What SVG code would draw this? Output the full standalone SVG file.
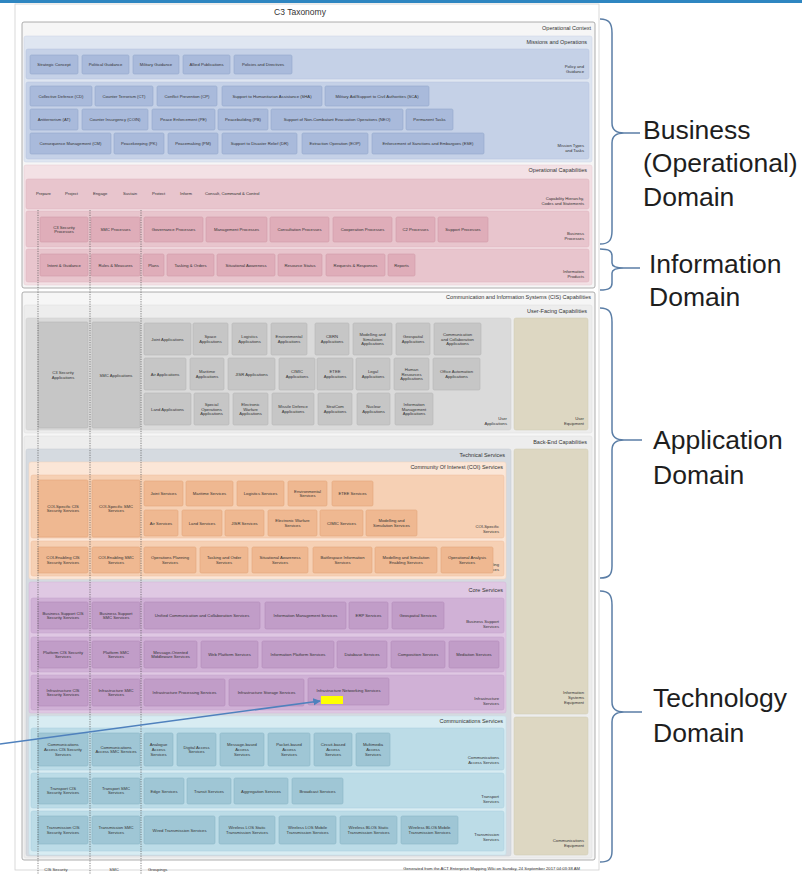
<svg xmlns="http://www.w3.org/2000/svg" width="802" height="874" viewBox="0 0 802 874">
<defs>
<style>
text{font-family:"Liberation Sans",Arial,sans-serif;fill:#333}
.t{font-size:4.2px;text-anchor:middle}
.tl{font-size:4.2px;text-anchor:start}
.l{font-size:4.2px;text-anchor:end}
.h{font-size:5.5px;text-anchor:end}
.dom{font-size:26.5px;fill:#1e1e1e}
.frame{fill:#f6f6f6;stroke:#9a9a9a;stroke-width:0.8}
.mbox{fill:#dfe6f1;stroke:#c9d3e6;stroke-width:0.5}
.mrow{fill:#c5d1e7;stroke:#b4c3de;stroke-width:0.5}
.mi{fill:#a9badb;stroke:#94a8cc;stroke-width:0.6}
.obox{fill:#f3e1e5;stroke:#e6c9d0;stroke-width:0.5}
.orow{fill:#e8c5cd;stroke:#dcb2bc;stroke-width:0.5}
.oi{fill:#dfadb9;stroke:#d29aa8;stroke-width:0.6}
.gbox{fill:#ededed;stroke:#dcdcdc;stroke-width:0.5}
.grow{fill:#dadada;stroke:#cfcfcf;stroke-width:0.5}
.gi{fill:#c6c6c6;stroke:#b5b5b5;stroke-width:0.6}
.tan{fill:#ddd7c2;stroke:#cfc8b0;stroke-width:0.5}
.tech{fill:#d5dae0;stroke:#c5cbd3;stroke-width:0.5}
.cbox{fill:#fbe6d7;stroke:#f1d2bb;stroke-width:0.5}
.crow{fill:#f6d0b4;stroke:#ecbf9f;stroke-width:0.5}
.ci{fill:#efb891;stroke:#e3a67c;stroke-width:0.6}
.pbox{fill:#dfc8e3;stroke:#d0b5d6;stroke-width:0.5}
.prow{fill:#d0b1d6;stroke:#c3a1ca;stroke-width:0.5}
.pi{fill:#c19dc8;stroke:#b38bba;stroke-width:0.6}
.bbox{fill:#d8ecf2;stroke:#c2dfe8;stroke-width:0.5}
.brow{fill:#bcdce7;stroke:#a9cfdc;stroke-width:0.5}
.bi{fill:#9fc6d5;stroke:#8bb7c8;stroke-width:0.6}
.dash{stroke:#555;stroke-width:0.7;stroke-dasharray:1.2 1.2;fill:none}
.brace{fill:none;stroke:#5b7ea6;stroke-width:1.5}
</style>
<marker id="ah" viewBox="0 0 10 10" refX="9" refY="5" markerWidth="5" markerHeight="5" orient="auto">
<path d="M0,0 L10,5 L0,10 z" fill="#4f81bd"/>
</marker>
</defs>
<rect x="0" y="0" width="802" height="874" fill="#ffffff"/>
<rect x="0" y="0" width="802" height="3" fill="#2e86c1"/>
<rect x="15" y="4" width="584" height="866" fill="#ffffff" stroke="#d0d0d0" stroke-width="0.8"/>
<text x="300" y="15" style="font-size:8.5px;text-anchor:middle">C3 Taxonomy</text>

<!-- Operational Context -->
<g id="operational-context">
<rect class="frame" x="22" y="22" width="573" height="266" rx="2"/>
<text class="h" x="591" y="30">Operational Context</text>
</g>
<g id="missions-and-operations">
<rect class="mbox" x="24" y="36" width="568" height="126" rx="2"/>
<text class="h" x="587" y="44">Missions and Operations</text>
</g>
<g id="policy-and-guidance">
<rect class="mrow" x="26" y="49" width="563" height="30" rx="2"/>
<text class="l" x="584" y="67.5">Policy and</text><text class="l" x="584" y="72.5">Guidance</text>
</g>
<g id="mo-strategic-concept"><rect class="mi" x="30" y="55" width="48" height="19" rx="1.5"/><text class="t" x="54" y="66">Strategic Concept</text></g>
<g id="mo-political-guidance"><rect class="mi" x="82" y="55" width="47" height="19" rx="1.5"/><text class="t" x="105.5" y="66">Political Guidance</text></g>
<g id="mo-military-guidance"><rect class="mi" x="133" y="55" width="46" height="19" rx="1.5"/><text class="t" x="156" y="66">Military Guidance</text></g>
<g id="mo-allied-publications"><rect class="mi" x="183" y="55" width="47" height="19" rx="1.5"/><text class="t" x="206.5" y="66">Allied Publications</text></g>
<g id="mo-policies-directives"><rect class="mi" x="234" y="55" width="58" height="19" rx="1.5"/><text class="t" x="263" y="66">Policies and Directives</text></g>

<g id="mission-types-and-tasks">
<rect class="mrow" x="26" y="82" width="563" height="77" rx="2"/>
<text class="l" x="584" y="147">Mission Types</text><text class="l" x="584" y="152">and Tasks</text>
</g>
<g id="mt-cd"><rect class="mi" x="30" y="86" width="62" height="20" rx="1.5"/><text class="t" x="61" y="97.5">Collective Defence (CD)</text></g>
<g id="mt-ct"><rect class="mi" x="95" y="86" width="58" height="20" rx="1.5"/><text class="t" x="124" y="97.5">Counter Terrorism (CT)</text></g>
<g id="mt-cp"><rect class="mi" x="157" y="86" width="60" height="20" rx="1.5"/><text class="t" x="187" y="97.5">Conflict Prevention (CP)</text></g>
<g id="mt-sha"><rect class="mi" x="222" y="86" width="100" height="20" rx="1.5"/><text class="t" x="272" y="97.5">Support to Humanitarian Assistance (SHA)</text></g>
<g id="mt-sca"><rect class="mi" x="325" y="86" width="104" height="20" rx="1.5"/><text class="t" x="377" y="97.5">Military Aid/Support to Civil Authorities (SCA)</text></g>
<g id="mt-at"><rect class="mi" x="30" y="109" width="48" height="21" rx="1.5"/><text class="t" x="54" y="121">Antiterrorism (AT)</text></g>
<g id="mt-coin"><rect class="mi" x="82" y="109" width="66" height="21" rx="1.5"/><text class="t" x="115" y="121">Counter Insurgency (COIN)</text></g>
<g id="mt-pe"><rect class="mi" x="152" y="109" width="63" height="21" rx="1.5"/><text class="t" x="183.5" y="121">Peace Enforcement (PE)</text></g>
<g id="mt-pb"><rect class="mi" x="218" y="109" width="50" height="21" rx="1.5"/><text class="t" x="243" y="121">Peacebuilding (PB)</text></g>
<g id="mt-neo"><rect class="mi" x="271" y="109" width="132" height="21" rx="1.5"/><text class="t" x="337" y="121">Support of Non-Combatant Evacuation Operations (NEO)</text></g>
<g id="mt-permanent"><rect class="mi" x="406" y="109" width="47" height="21" rx="1.5"/><text class="t" x="429.5" y="121">Permanent Tasks</text></g>
<g id="mt-cm"><rect class="mi" x="30" y="133" width="81" height="21" rx="1.5"/><text class="t" x="70.5" y="145">Consequence Management (CM)</text></g>
<g id="mt-pk"><rect class="mi" x="114" y="133" width="50" height="21" rx="1.5"/><text class="t" x="139" y="145">Peacekeeping (PK)</text></g>
<g id="mt-pm"><rect class="mi" x="168" y="133" width="50" height="21" rx="1.5"/><text class="t" x="193" y="145">Peacemaking (PM)</text></g>
<g id="mt-dr"><rect class="mi" x="222" y="133" width="75" height="21" rx="1.5"/><text class="t" x="259.5" y="145">Support to Disaster Relief (DR)</text></g>
<g id="mt-eop"><rect class="mi" x="302" y="133" width="66" height="21" rx="1.5"/><text class="t" x="335" y="145">Extraction Operation (EOP)</text></g>
<g id="mt-ese"><rect class="mi" x="372" y="133" width="112" height="21" rx="1.5"/><text class="t" x="428" y="145">Enforcement of Sanctions and Embargoes (ESE)</text></g>

<g id="operational-capabilities">
<rect class="obox" x="24" y="165" width="568" height="120" rx="2"/>
<text class="h" x="587" y="172">Operational Capabilities</text>
</g>
<g id="capability-hierarchy">
<rect class="orow" x="26" y="179" width="563" height="30" rx="2"/>
<text class="l" x="584" y="199.5">Capability Hierarchy,</text><text class="l" x="584" y="204.5">Codes and Statements</text>
</g>
<g id="cap-prepare"><text class="tl" x="36" y="195">Prepare</text></g>
<g id="cap-project"><text class="tl" x="65" y="195">Project</text></g>
<g id="cap-engage"><text class="tl" x="93" y="195">Engage</text></g>
<g id="cap-sustain"><text class="tl" x="123" y="195">Sustain</text></g>
<g id="cap-protect"><text class="tl" x="152" y="195">Protect</text></g>
<g id="cap-inform"><text class="tl" x="180" y="195">Inform</text></g>
<g id="cap-c3"><text class="tl" x="205" y="195">Consult, Command &amp; Control</text></g>

<g id="business-processes">
<rect class="orow" x="26" y="211" width="563" height="36" rx="2"/>
<text class="l" x="584" y="235">Business</text><text class="l" x="584" y="240">Processes</text>
</g>
<g id="bp-c3sec"><rect class="oi" x="40" y="217" width="48" height="25" rx="1.5"/><text class="t" x="64" y="228.7">C3 Security</text><text class="t" x="64" y="233.3">Processes</text></g>
<g id="bp-smc"><rect class="oi" x="91" y="217" width="49" height="25" rx="1.5"/><text class="t" x="115.5" y="231">SMC Processes</text></g>
<g id="bp-gov"><rect class="oi" x="144" y="217" width="59" height="25" rx="1.5"/><text class="t" x="173.5" y="231">Governance Processes</text></g>
<g id="bp-mgmt"><rect class="oi" x="206" y="217" width="61" height="25" rx="1.5"/><text class="t" x="236.5" y="231">Management Processes</text></g>
<g id="bp-consult"><rect class="oi" x="270" y="217" width="59" height="25" rx="1.5"/><text class="t" x="299.5" y="231">Consultation Processes</text></g>
<g id="bp-coop"><rect class="oi" x="333" y="217" width="59" height="25" rx="1.5"/><text class="t" x="362.5" y="231">Cooperation Processes</text></g>
<g id="bp-c2"><rect class="oi" x="396" y="217" width="39" height="25" rx="1.5"/><text class="t" x="415.5" y="231">C2 Processes</text></g>
<g id="bp-support"><rect class="oi" x="438" y="217" width="50" height="25" rx="1.5"/><text class="t" x="463" y="231">Support Processes</text></g>

<g id="information-products">
<rect class="orow" x="26" y="249" width="563" height="33" rx="2"/>
<text class="l" x="584" y="273">Information</text><text class="l" x="584" y="278">Products</text>
</g>
<g id="ip-intent"><rect class="oi" x="40" y="254" width="48" height="22" rx="1.5"/><text class="t" x="64" y="266.5">Intent &amp; Guidance</text></g>
<g id="ip-rules"><rect class="oi" x="91" y="254" width="49" height="22" rx="1.5"/><text class="t" x="115.5" y="266.5">Rules &amp; Measures</text></g>
<g id="ip-plans"><rect class="oi" x="143" y="254" width="21" height="22" rx="1.5"/><text class="t" x="153.5" y="266.5">Plans</text></g>
<g id="ip-tasking"><rect class="oi" x="167" y="254" width="47" height="22" rx="1.5"/><text class="t" x="190.5" y="266.5">Tasking &amp; Orders</text></g>
<g id="ip-sa"><rect class="oi" x="217" y="254" width="58" height="22" rx="1.5"/><text class="t" x="246" y="266.5">Situational Awareness</text></g>
<g id="ip-resource"><rect class="oi" x="278" y="254" width="44" height="22" rx="1.5"/><text class="t" x="300" y="266.5">Resource Status</text></g>
<g id="ip-requests"><rect class="oi" x="326" y="254" width="59" height="22" rx="1.5"/><text class="t" x="355.5" y="266.5">Requests &amp; Responses</text></g>
<g id="ip-reports"><rect class="oi" x="388" y="254" width="27" height="22" rx="1.5"/><text class="t" x="401.5" y="266.5">Reports</text></g>

<!-- CIS Capabilities -->
<g id="cis-capabilities">
<rect class="frame" x="22" y="292" width="573" height="568" rx="2"/>
<text class="h" x="591" y="299">Communication and Information Systems (CIS) Capabilities</text>
</g>
<g id="user-facing-capabilities">
<rect class="gbox" x="24" y="305" width="568" height="128" rx="2"/>
<text class="h" x="587" y="313">User-Facing Capabilities</text>
</g>
<g id="user-applications">
<rect class="grow" x="26" y="318" width="485" height="112" rx="2"/>
<text class="l" x="507" y="419.5">User</text><text class="l" x="507" y="424.5">Applications</text>
</g>
<g id="user-equipment">
<rect class="tan" x="514" y="318" width="74" height="112" rx="2"/>
<text class="l" x="584" y="419.5">User</text><text class="l" x="584" y="424.5">Equipment</text>
</g>
<g id="ua-c3sec"><rect class="gi" x="38" y="322" width="50" height="106" rx="1.5"/><text class="t" x="63" y="374.2">C3 Security</text><text class="t" x="63" y="378.8">Applications</text></g>
<g id="ua-smc"><rect class="gi" x="92" y="322" width="48" height="106" rx="1.5"/><text class="t" x="116" y="376.5">SMC Applications</text></g>
<g id="ua-joint"><rect class="gi" x="144" y="323" width="47" height="32" rx="1.5"/><text class="t" x="167.5" y="340.5">Joint Applications</text></g>
<g id="ua-space"><rect class="gi" x="193" y="323" width="35" height="32" rx="1.5"/><text class="t" x="210.5" y="338.2">Space</text><text class="t" x="210.5" y="342.8">Applications</text></g>
<g id="ua-logistics"><rect class="gi" x="232" y="323" width="35" height="32" rx="1.5"/><text class="t" x="249.5" y="338.2">Logistics</text><text class="t" x="249.5" y="342.8">Applications</text></g>
<g id="ua-env"><rect class="gi" x="271" y="323" width="36" height="32" rx="1.5"/><text class="t" x="289" y="338.2">Environmental</text><text class="t" x="289" y="342.8">Applications</text></g>
<g id="ua-cbrn"><rect class="gi" x="315" y="323" width="34" height="32" rx="1.5"/><text class="t" x="332" y="338.2">CBRN</text><text class="t" x="332" y="342.8">Applications</text></g>
<g id="ua-ms"><rect class="gi" x="353" y="323" width="39" height="32" rx="1.5"/><text class="t" x="372.5" y="335.9">Modelling and</text><text class="t" x="372.5" y="340.5">Simulation</text><text class="t" x="372.5" y="345.1">Applications</text></g>
<g id="ua-geo"><rect class="gi" x="396" y="323" width="34" height="32" rx="1.5"/><text class="t" x="413" y="338.2">Geospatial</text><text class="t" x="413" y="342.8">Applications</text></g>
<g id="ua-comcol"><rect class="gi" x="434" y="323" width="47" height="32" rx="1.5"/><text class="t" x="457.5" y="335.9">Communication</text><text class="t" x="457.5" y="340.5">and Collaboration</text><text class="t" x="457.5" y="345.1">Applications</text></g>
<g id="ua-air"><rect class="gi" x="144" y="358" width="42" height="32" rx="1.5"/><text class="t" x="165" y="375.5">Air Applications</text></g>
<g id="ua-maritime"><rect class="gi" x="190" y="358" width="34" height="32" rx="1.5"/><text class="t" x="207" y="373.2">Maritime</text><text class="t" x="207" y="377.8">Applications</text></g>
<g id="ua-jisr"><rect class="gi" x="228" y="358" width="47" height="32" rx="1.5"/><text class="t" x="251.5" y="375.5">JISR Applications</text></g>
<g id="ua-cimic"><rect class="gi" x="279" y="358" width="36" height="32" rx="1.5"/><text class="t" x="297" y="373.2">CIMIC</text><text class="t" x="297" y="377.8">Applications</text></g>
<g id="ua-etee"><rect class="gi" x="317" y="358" width="36" height="32" rx="1.5"/><text class="t" x="335" y="373.2">ETEE</text><text class="t" x="335" y="377.8">Applications</text></g>
<g id="ua-legal"><rect class="gi" x="356" y="358" width="34" height="32" rx="1.5"/><text class="t" x="373" y="373.2">Legal</text><text class="t" x="373" y="377.8">Applications</text></g>
<g id="ua-hr"><rect class="gi" x="394" y="358" width="35" height="32" rx="1.5"/><text class="t" x="411.5" y="370.9">Human</text><text class="t" x="411.5" y="375.5">Resources</text><text class="t" x="411.5" y="380.1">Applications</text></g>
<g id="ua-office"><rect class="gi" x="433" y="358" width="47" height="32" rx="1.5"/><text class="t" x="456.5" y="373.2">Office Automation</text><text class="t" x="456.5" y="377.8">Applications</text></g>
<g id="ua-land"><rect class="gi" x="144" y="393" width="47" height="32" rx="1.5"/><text class="t" x="167.5" y="410.5">Land Applications</text></g>
<g id="ua-sof"><rect class="gi" x="194" y="393" width="35" height="32" rx="1.5"/><text class="t" x="211.5" y="405.9">Special</text><text class="t" x="211.5" y="410.5">Operations</text><text class="t" x="211.5" y="415.1">Applications</text></g>
<g id="ua-ew"><rect class="gi" x="233" y="393" width="35" height="32" rx="1.5"/><text class="t" x="250.5" y="405.9">Electronic</text><text class="t" x="250.5" y="410.5">Warfare</text><text class="t" x="250.5" y="415.1">Applications</text></g>
<g id="ua-md"><rect class="gi" x="272" y="393" width="42" height="32" rx="1.5"/><text class="t" x="293" y="408.2">Missile Defence</text><text class="t" x="293" y="412.8">Applications</text></g>
<g id="ua-stratcom"><rect class="gi" x="318" y="393" width="34" height="32" rx="1.5"/><text class="t" x="335" y="408.2">StratCom</text><text class="t" x="335" y="412.8">Applications</text></g>
<g id="ua-nuclear"><rect class="gi" x="357" y="393" width="33" height="32" rx="1.5"/><text class="t" x="373.5" y="408.2">Nuclear</text><text class="t" x="373.5" y="412.8">Applications</text></g>
<g id="ua-im"><rect class="gi" x="395" y="393" width="38" height="32" rx="1.5"/><text class="t" x="414" y="405.9">Information</text><text class="t" x="414" y="410.5">Management</text><text class="t" x="414" y="415.1">Applications</text></g>

<g id="back-end-capabilities">
<rect class="gbox" x="24" y="436" width="568" height="422" rx="2"/>
<text class="h" x="587" y="444">Back-End Capabilities</text>
</g>
<g id="technical-services">
<rect class="tech" x="26" y="449" width="485" height="407" rx="2"/>
<text class="h" x="505" y="457">Technical Services</text>
</g>
<g id="information-systems-equipment">
<rect class="tan" x="514" y="449" width="74" height="265" rx="2"/>
<text class="l" x="584" y="694">Information</text><text class="l" x="584" y="699">Systems</text><text class="l" x="584" y="704">Equipment</text>
</g>
<g id="communications-equipment">
<rect class="tan" x="514" y="717" width="74" height="138" rx="2"/>
<text class="l" x="584" y="842">Communications</text><text class="l" x="584" y="847">Equipment</text>
</g>

<!-- COI Services -->
<g id="coi-services">
<rect class="cbox" x="29" y="462" width="477" height="117" rx="2"/>
<text class="h" x="503" y="469">Community Of Interest (COI) Services</text>
</g>
<g id="coi-specific-services">
<rect class="crow" x="31" y="475" width="473" height="63" rx="2"/>
<text class="l" x="499" y="528">COI-Specific</text><text class="l" x="499" y="533">Services</text>
</g>
<g id="cs-c3sec"><rect class="ci" x="38" y="480" width="50" height="57" rx="1.5"/><text class="t" x="63" y="507.7">COI-Specific CIS</text><text class="t" x="63" y="512.3">Security Services</text></g>
<g id="cs-smc"><rect class="ci" x="92" y="480" width="48" height="57" rx="1.5"/><text class="t" x="116" y="507.7">COI-Specific SMC</text><text class="t" x="116" y="512.3">Services</text></g>
<g id="cs-joint"><rect class="ci" x="144" y="481" width="39" height="25" rx="1.5"/><text class="t" x="163.5" y="495">Joint Services</text></g>
<g id="cs-maritime"><rect class="ci" x="186" y="481" width="47" height="25" rx="1.5"/><text class="t" x="209.5" y="495">Maritime Services</text></g>
<g id="cs-logistics"><rect class="ci" x="237" y="481" width="47" height="25" rx="1.5"/><text class="t" x="260.5" y="495">Logistics Services</text></g>
<g id="cs-env"><rect class="ci" x="288" y="481" width="39" height="25" rx="1.5"/><text class="t" x="307.5" y="492.7">Environmental</text><text class="t" x="307.5" y="497.3">Services</text></g>
<g id="cs-etee"><rect class="ci" x="332" y="481" width="41" height="25" rx="1.5"/><text class="t" x="352.5" y="495">ETEE Services</text></g>
<g id="cs-air"><rect class="ci" x="144" y="510" width="34" height="26" rx="1.5"/><text class="t" x="161" y="524.5">Air Services</text></g>
<g id="cs-land"><rect class="ci" x="182" y="510" width="40" height="26" rx="1.5"/><text class="t" x="202" y="524.5">Land Services</text></g>
<g id="cs-jisr"><rect class="ci" x="225" y="510" width="39" height="26" rx="1.5"/><text class="t" x="244.5" y="524.5">JISR Services</text></g>
<g id="cs-ew"><rect class="ci" x="268" y="510" width="49" height="26" rx="1.5"/><text class="t" x="292.5" y="522.2">Electronic Warfare</text><text class="t" x="292.5" y="526.8">Services</text></g>
<g id="cs-cimic"><rect class="ci" x="320" y="510" width="43" height="26" rx="1.5"/><text class="t" x="341.5" y="524.5">CIMIC Services</text></g>
<g id="cs-ms"><rect class="ci" x="366" y="510" width="51" height="26" rx="1.5"/><text class="t" x="391.5" y="522.2">Modelling and</text><text class="t" x="391.5" y="526.8">Simulation Services</text></g>

<g id="coi-enabling-services">
<rect class="crow" x="31" y="541" width="473" height="35" rx="2"/>
<text class="l" x="499" y="565.5">COI-Enabling</text><text class="l" x="499" y="570.5">Services</text>
</g>
<g id="ce-c3sec"><rect class="ci" x="38" y="547" width="50" height="26" rx="1.5"/><text class="t" x="63" y="559.2">COI-Enabling CIS</text><text class="t" x="63" y="563.8">Security Services</text></g>
<g id="ce-smc"><rect class="ci" x="92" y="547" width="48" height="26" rx="1.5"/><text class="t" x="116" y="559.2">COI-Enabling SMC</text><text class="t" x="116" y="563.8">Services</text></g>
<g id="ce-opplan"><rect class="ci" x="144" y="547" width="52" height="26" rx="1.5"/><text class="t" x="170" y="559.2">Operations Planning</text><text class="t" x="170" y="563.8">Services</text></g>
<g id="ce-tasking"><rect class="ci" x="200" y="547" width="48" height="26" rx="1.5"/><text class="t" x="224" y="559.2">Tasking and Order</text><text class="t" x="224" y="563.8">Services</text></g>
<g id="ce-sa"><rect class="ci" x="252" y="547" width="56" height="26" rx="1.5"/><text class="t" x="280" y="559.2">Situational Awareness</text><text class="t" x="280" y="563.8">Services</text></g>
<g id="ce-battlespace"><rect class="ci" x="313" y="547" width="59" height="26" rx="1.5"/><text class="t" x="342.5" y="559.2">Battlespace Information</text><text class="t" x="342.5" y="563.8">Services</text></g>
<g id="ce-ms"><rect class="ci" x="375" y="547" width="62" height="26" rx="1.5"/><text class="t" x="406" y="559.2">Modelling and Simulation</text><text class="t" x="406" y="563.8">Enabling Services</text></g>
<g id="ce-oa"><rect class="ci" x="441" y="547" width="52" height="26" rx="1.5"/><text class="t" x="467" y="559.2">Operational Analysis</text><text class="t" x="467" y="563.8">Services</text></g>

<!-- Core Services -->
<g id="core-services">
<rect class="pbox" x="29" y="582" width="477" height="131" rx="2"/>
<text class="h" x="503" y="592">Core Services</text>
</g>
<g id="business-support-services">
<rect class="prow" x="31" y="598" width="473" height="35" rx="2"/>
<text class="l" x="499" y="622.5">Business Support</text><text class="l" x="499" y="627.5">Services</text>
</g>
<g id="bs-c3sec"><rect class="pi" x="38" y="602" width="50" height="27" rx="1.5"/><text class="t" x="63" y="614.7">Business Support CIS</text><text class="t" x="63" y="619.3">Security Services</text></g>
<g id="bs-smc"><rect class="pi" x="92" y="602" width="48" height="27" rx="1.5"/><text class="t" x="116" y="614.7">Business Support</text><text class="t" x="116" y="619.3">SMC Services</text></g>
<g id="bs-ucc"><rect class="pi" x="144" y="602" width="116" height="27" rx="1.5"/><text class="t" x="202" y="617">Unified Communication and Collaboration Services</text></g>
<g id="bs-im"><rect class="pi" x="265" y="602" width="81" height="27" rx="1.5"/><text class="t" x="305.5" y="617">Information Management Services</text></g>
<g id="bs-erp"><rect class="pi" x="349" y="602" width="39" height="27" rx="1.5"/><text class="t" x="368.5" y="617">ERP Services</text></g>
<g id="bs-geo"><rect class="pi" x="392" y="602" width="52" height="27" rx="1.5"/><text class="t" x="418" y="617">Geospatial Services</text></g>

<g id="platform-services">
<rect class="prow" x="31" y="637" width="473" height="35" rx="2"/>
</g>
<g id="ps-c3sec"><rect class="pi" x="38" y="641" width="50" height="27" rx="1.5"/><text class="t" x="63" y="653.7">Platform CIS Security</text><text class="t" x="63" y="658.3">Services</text></g>
<g id="ps-smc"><rect class="pi" x="92" y="641" width="48" height="27" rx="1.5"/><text class="t" x="116" y="653.7">Platform SMC</text><text class="t" x="116" y="658.3">Services</text></g>
<g id="ps-mom"><rect class="pi" x="144" y="641" width="53" height="27" rx="1.5"/><text class="t" x="170.5" y="653.7">Message-Oriented</text><text class="t" x="170.5" y="658.3">Middleware Services</text></g>
<g id="ps-web"><rect class="pi" x="201" y="641" width="57" height="27" rx="1.5"/><text class="t" x="229.5" y="656">Web Platform Services</text></g>
<g id="ps-info"><rect class="pi" x="262" y="641" width="72" height="27" rx="1.5"/><text class="t" x="298" y="656">Information Platform Services</text></g>
<g id="ps-db"><rect class="pi" x="337" y="641" width="50" height="27" rx="1.5"/><text class="t" x="362" y="656">Database Services</text></g>
<g id="ps-comp"><rect class="pi" x="391" y="641" width="54" height="27" rx="1.5"/><text class="t" x="418" y="656">Composition Services</text></g>
<g id="ps-med"><rect class="pi" x="449" y="641" width="50" height="27" rx="1.5"/><text class="t" x="474" y="656">Mediation Services</text></g>

<g id="infrastructure-services">
<rect class="prow" x="31" y="675" width="473" height="35" rx="2"/>
<text class="l" x="499" y="699.5">Infrastructure</text><text class="l" x="499" y="704.5">Services</text>
</g>
<g id="is-c3sec"><rect class="pi" x="38" y="679" width="50" height="27" rx="1.5"/><text class="t" x="63" y="691.7">Infrastructure CIS</text><text class="t" x="63" y="696.3">Security Services</text></g>
<g id="is-smc"><rect class="pi" x="92" y="679" width="48" height="27" rx="1.5"/><text class="t" x="116" y="691.7">Infrastructure SMC</text><text class="t" x="116" y="696.3">Services</text></g>
<g id="is-proc"><rect class="pi" x="144" y="679" width="81" height="27" rx="1.5"/><text class="t" x="184.5" y="694">Infrastructure Processing Services</text></g>
<g id="is-storage"><rect class="pi" x="229" y="679" width="75" height="27" rx="1.5"/><text class="t" x="266.5" y="694">Infrastructure Storage Services</text></g>
<g id="is-net"><rect class="pi" x="308" y="678" width="81" height="27" rx="1.5"/><text class="t" x="348.5" y="692">Infrastructure Networking Services</text><rect x="321" y="696" width="22" height="8" fill="#ffff00"/></g>

<!-- Communications Services -->
<g id="communications-services">
<rect class="bbox" x="29" y="716" width="477" height="139" rx="2"/>
<text class="h" x="503" y="723">Communications Services</text>
</g>
<g id="communications-access-services">
<rect class="brow" x="31" y="728" width="473" height="42" rx="2"/>
<text class="l" x="499" y="759">Communications</text><text class="l" x="499" y="764">Access Services</text>
</g>
<g id="ca-c3sec"><rect class="bi" x="38" y="733" width="50" height="33" rx="1.5"/><text class="t" x="63" y="746.4">Communications</text><text class="t" x="63" y="751">Access CIS Security</text><text class="t" x="63" y="755.6">Services</text></g>
<g id="ca-smc"><rect class="bi" x="92" y="733" width="48" height="33" rx="1.5"/><text class="t" x="116" y="748.7">Communications</text><text class="t" x="116" y="753.3">Access SMC Services</text></g>
<g id="ca-analogue"><rect class="bi" x="144" y="733" width="29" height="33" rx="1.5"/><text class="t" x="158.5" y="746.4">Analogue</text><text class="t" x="158.5" y="751">Access</text><text class="t" x="158.5" y="755.6">Services</text></g>
<g id="ca-digital"><rect class="bi" x="177" y="733" width="39" height="33" rx="1.5"/><text class="t" x="196.5" y="748.7">Digital Access</text><text class="t" x="196.5" y="753.3">Services</text></g>
<g id="ca-message"><rect class="bi" x="220" y="733" width="44" height="33" rx="1.5"/><text class="t" x="242" y="746.4">Message-based</text><text class="t" x="242" y="751">Access</text><text class="t" x="242" y="755.6">Services</text></g>
<g id="ca-packet"><rect class="bi" x="268" y="733" width="42" height="33" rx="1.5"/><text class="t" x="289" y="746.4">Packet-based</text><text class="t" x="289" y="751">Access</text><text class="t" x="289" y="755.6">Services</text></g>
<g id="ca-circuit"><rect class="bi" x="314" y="733" width="38" height="33" rx="1.5"/><text class="t" x="333" y="746.4">Circuit-based</text><text class="t" x="333" y="751">Access</text><text class="t" x="333" y="755.6">Services</text></g>
<g id="ca-multimedia"><rect class="bi" x="356" y="733" width="34" height="33" rx="1.5"/><text class="t" x="373" y="746.4">Multimedia</text><text class="t" x="373" y="751">Access</text><text class="t" x="373" y="755.6">Services</text></g>

<g id="transport-services">
<rect class="brow" x="31" y="773" width="473" height="35" rx="2"/>
<text class="l" x="499" y="797.5">Transport</text><text class="l" x="499" y="802.5">Services</text>
</g>
<g id="tp-c3sec"><rect class="bi" x="38" y="778" width="50" height="26" rx="1.5"/><text class="t" x="63" y="789.7">Transport CIS</text><text class="t" x="63" y="794.3">Security Services</text></g>
<g id="tp-smc"><rect class="bi" x="92" y="778" width="48" height="26" rx="1.5"/><text class="t" x="116" y="789.7">Transport SMC</text><text class="t" x="116" y="794.3">Services</text></g>
<g id="tp-edge"><rect class="bi" x="144" y="778" width="40" height="26" rx="1.5"/><text class="t" x="164" y="792.5">Edge Services</text></g>
<g id="tp-transit"><rect class="bi" x="187" y="778" width="44" height="26" rx="1.5"/><text class="t" x="209" y="792.5">Transit Services</text></g>
<g id="tp-aggregation"><rect class="bi" x="234" y="778" width="54" height="26" rx="1.5"/><text class="t" x="261" y="792.5">Aggregation Services</text></g>
<g id="tp-broadcast"><rect class="bi" x="292" y="778" width="51" height="26" rx="1.5"/><text class="t" x="317.5" y="792.5">Broadcast Services</text></g>

<g id="transmission-services">
<rect class="brow" x="31" y="811" width="473" height="40" rx="2"/>
<text class="l" x="499" y="836">Transmission</text><text class="l" x="499" y="841">Services</text>
</g>
<g id="tm-c3sec"><rect class="bi" x="38" y="816" width="50" height="28" rx="1.5"/><text class="t" x="63" y="829.2">Transmission CIS</text><text class="t" x="63" y="833.8">Security Services</text></g>
<g id="tm-smc"><rect class="bi" x="92" y="816" width="48" height="28" rx="1.5"/><text class="t" x="116" y="829.2">Transmission SMC</text><text class="t" x="116" y="833.8">Services</text></g>
<g id="tm-wired"><rect class="bi" x="144" y="816" width="71" height="28" rx="1.5"/><text class="t" x="179.5" y="831.5">Wired Transmission Services</text></g>
<g id="tm-los-static"><rect class="bi" x="219" y="816" width="56" height="28" rx="1.5"/><text class="t" x="247" y="829.2">Wireless LOS Static</text><text class="t" x="247" y="833.8">Transmission Services</text></g>
<g id="tm-los-mobile"><rect class="bi" x="279" y="816" width="57" height="28" rx="1.5"/><text class="t" x="307.5" y="829.2">Wireless LOS Mobile</text><text class="t" x="307.5" y="833.8">Transmission Services</text></g>
<g id="tm-blos-static"><rect class="bi" x="340" y="816" width="57" height="28" rx="1.5"/><text class="t" x="368.5" y="829.2">Wireless BLOS Static</text><text class="t" x="368.5" y="833.8">Transmission Services</text></g>
<g id="tm-blos-mobile"><rect class="bi" x="401" y="816" width="57" height="28" rx="1.5"/><text class="t" x="429.5" y="829.2">Wireless BLOS Mobile</text><text class="t" x="429.5" y="833.8">Transmission Services</text></g>

<!-- Groupings (dashed) -->
<g id="groupings">
<line class="dash" x1="38" y1="210" x2="38" y2="874"/>
<line class="dash" x1="90" y1="210" x2="90" y2="874"/>
<line class="dash" x1="141" y1="210" x2="141" y2="874"/>
<text class="t" x="56" y="870.5">CIS Security</text>
<text class="t" x="114" y="870.5">SMC</text>
<text class="tl" x="148" y="870.5">Groupings</text>
</g>
<text x="580" y="869.5" style="font-size:4.2px;text-anchor:end">Generated from the ACT Enterprise Mapping Wiki on Sunday, 24 September 2017 04:03:38 AM</text>

<!-- Domains -->
<g id="domain-business">
<path class="brace" d="M600,19 C609,19 612,23 612,33 L612,123 C612,130 616,133 624,133 L640,133 M624,133 C616,133 612,136 612,143 L612,231 C612,240 609,244 600,244"/>
<text class="dom" x="643" y="139">Business</text>
<text class="dom" x="643" y="172">(Operational)</text>
<text class="dom" x="643" y="206">Domain</text>
</g>
<g id="domain-information">
<path class="brace" d="M600,249 C609,249 612,251 612,256 L612,263 C612,266 616,268 624,268 L640,268 M624,268 C616,268 612,270 612,273 L612,283 C612,288 609,290 600,290"/>
<text class="dom" x="649" y="273">Information</text>
<text class="dom" x="649" y="306">Domain</text>
</g>
<g id="domain-application">
<path class="brace" d="M600,308 C609,308 612,312 612,322 L612,430 C612,437 616,440 624,440 L642,440 M624,440 C616,440 612,443 612,450 L612,566 C612,575 609,578 600,578"/>
<text class="dom" x="653" y="449">Application</text>
<text class="dom" x="653" y="484">Domain</text>
</g>
<g id="domain-technology">
<path class="brace" d="M600,591 C609,591 612,595 612,605 L612,702 C612,709 616,712 624,712 L642,712 M624,712 C616,712 612,715 612,722 L612,851 C612,859 609,862 600,862"/>
<text class="dom" x="653" y="707">Technology</text>
<text class="dom" x="653" y="742">Domain</text>
</g>

<g id="connectors">
<line x1="0" y1="744" x2="320" y2="701" stroke="#4f81bd" stroke-width="1.5" marker-end="url(#ah)"/>
</g>
</svg>
